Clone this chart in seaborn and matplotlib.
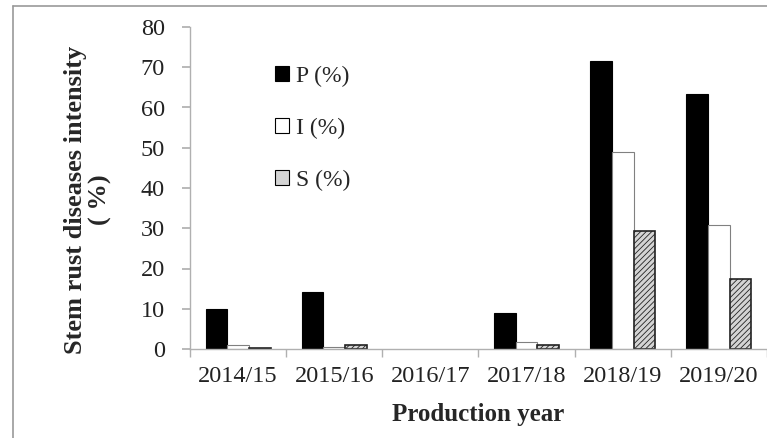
import matplotlib

matplotlib.use("Agg")

import matplotlib.pyplot as plt
import numpy as np
import pandas as pd
import seaborn as sns
from matplotlib.lines import Line2D

years = ["2014/15", "2015/16", "2016/17", "2017/18", "2018/19", "2019/20"]
prevalence = [10.0, 14.2, 0.0, 9.0, 71.5, 63.3]
incidence = [1.0, 0.6, 0.0, 1.7, 49.0, 30.8]
severity = [0.3, 1.0, 0.0, 1.0, 29.2, 17.3]
series_names = ["P (%)", "I (%)", "S (%)"]

sns.set_theme(style="white")
plt.rcParams["font.family"] = ["Liberation Serif", "DejaVu Serif"]
plt.rcParams["hatch.color"] = "#555555"
plt.rcParams["hatch.linewidth"] = 0.6

df = pd.DataFrame(
    {
        "year": years * 3,
        "value": prevalence + incidence + severity,
        "series": np.repeat(series_names, len(years)),
    }
)

fig = plt.figure(figsize=(7.67, 4.38), dpi=100)
ax = fig.add_axes([190 / 767, 1 - 349 / 438, 1 - 190 / 767, (349 - 27) / 438])

sns.barplot(
    data=df,
    x="year",
    y="value",
    hue="series",
    hue_order=series_names,
    palette=["black", "white", "#d4d4d4"],
    width=0.675,
    edgecolor="black",
    linewidth=0.8,
    ax=ax,
)

# I bars: gray outline, S bars: hatched
for patch in ax.containers[1]:
    patch.set_edgecolor("#808080")
for patch in ax.containers[2]:
    patch.set_hatch("//////")
    patch.set_edgecolor("#222222")
    patch.set_linewidth(1.2)
for container in ax.containers:
    for patch in container:
        if patch.get_height() == 0:
            patch.set_visible(False)

ax.set_ylim(0, 80)
ax.set_xlim(-0.5, len(years) - 0.5)
ax.set_yticks(range(0, 81, 10))
ax.set_xticks(np.arange(-0.5, len(years), 1.0), minor=True)
ax.tick_params(axis="x", which="major", length=0, labelsize=17.5, pad=12, colors="#222222")
ax.tick_params(axis="x", which="minor", length=6, direction="out", color="#b0b0b0", bottom=True)
ax.tick_params(axis="y", length=6, direction="out", color="#b0b0b0", labelsize=17.5, pad=12, colors="#222222", left=True)
for lbl in ax.get_yticklabels():
    lbl.set_color("#222222")

for side in ["top", "right"]:
    ax.spines[side].set_visible(False)
for side in ["left", "bottom"]:
    ax.spines[side].set_color("#b0b0b0")
    ax.spines[side].set_linewidth(1.0)

ax.set_xlabel("Production year", fontsize=18, fontweight="bold", labelpad=12)
ax.set_ylabel("")
fig.text(88 / 767, 1 - 200 / 438, "Stem rust diseases intensity\n( %)", fontsize=19, fontweight="bold",
         rotation=90, ha="center", va="center", multialignment="center", linespacing=1.05)

handles, labels = ax.get_legend_handles_labels()
ax.legend(
    handles,
    labels,
    loc="upper left",
    bbox_to_anchor=(0.11, 0.945),
    frameon=False,
    fontsize=17,
    handlelength=0.6,
    handleheight=0.6,
    handletextpad=0.3,
    labelspacing=1.3,
)

# figure frame (left and top edges visible)
fig.add_artist(Line2D([13 / 767, 13 / 767], [0, 1 - 6 / 438], transform=fig.transFigure, color="#999999", lw=1.2))
fig.add_artist(Line2D([13 / 767, 1], [1 - 6 / 438, 1 - 6 / 438], transform=fig.transFigure, color="#999999", lw=1.2))

fig.savefig("out.png", dpi=100)
